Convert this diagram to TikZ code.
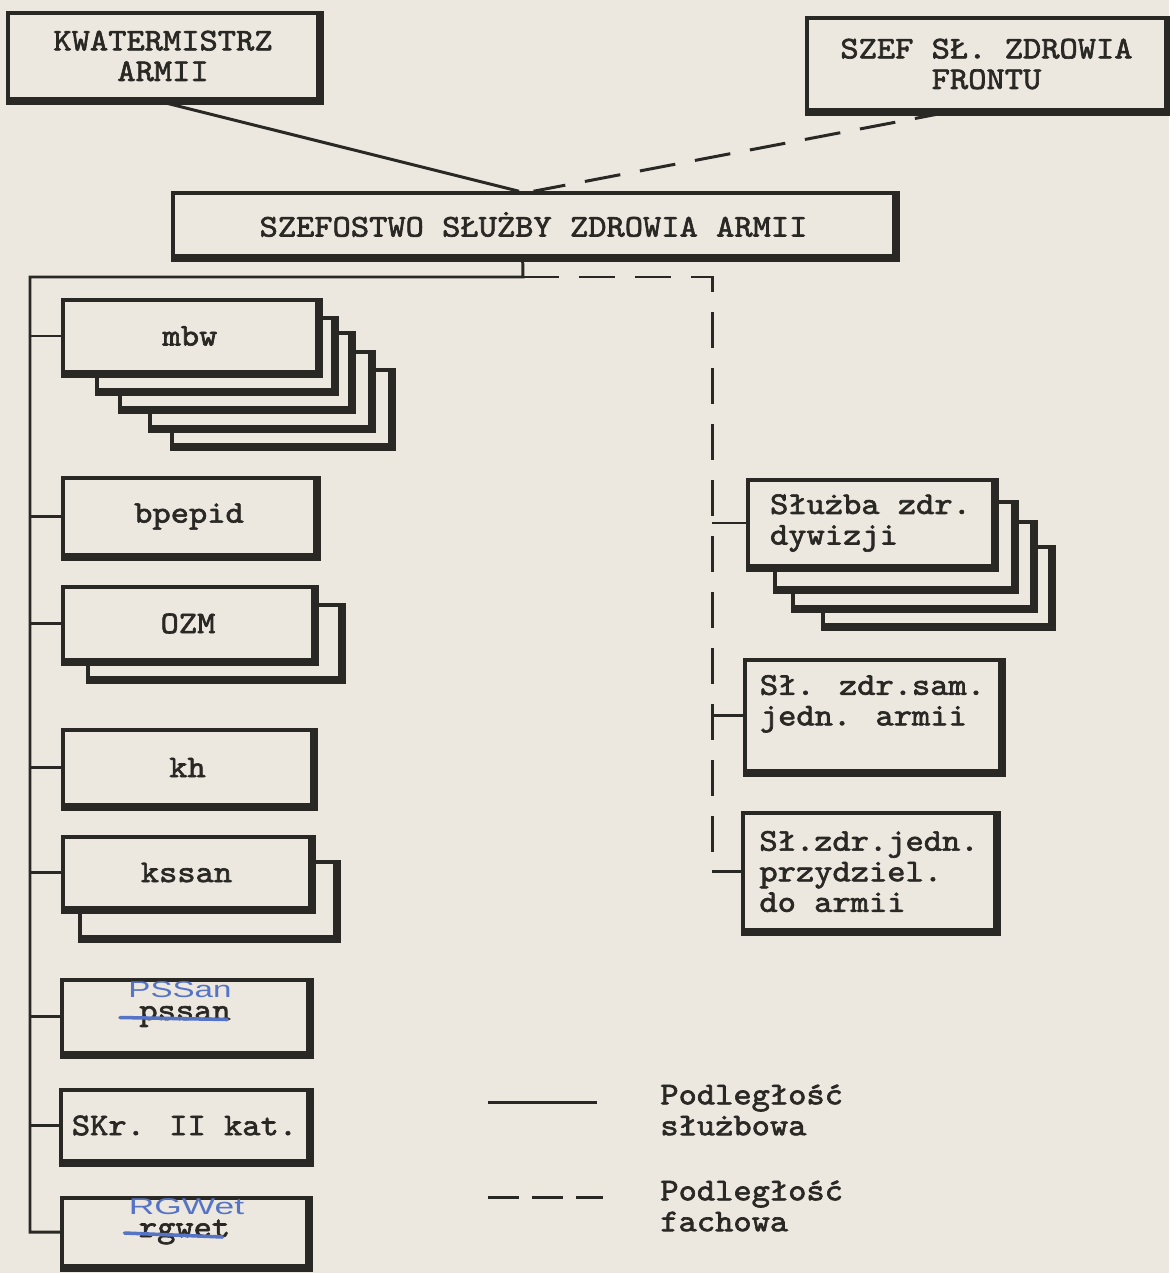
\documentclass[tikz,border=0pt]{standalone}
\usepackage{fontspec}
\usepackage{graphicx}
\newfontfamily\typew{lmmono10-regular.otf}[FakeStretch=1.1, FakeBold=2]
\newfontfamily\penfont{Liberation Sans}
\usetikzlibrary{fit, calc}
\definecolor{paper}{RGB}{236,232,223}
\definecolor{ink}{RGB}{42,40,37}
\definecolor{pen}{RGB}{86,116,198}
\tikzset{
  sheet/.style={
    rectangle, draw=ink, line width=2pt, fill=paper, inner sep=0pt,
    align=center, text=ink, font=\typew\fontsize{18}{17.4}\selectfont
  },
  heavy/.style={draw=ink, line width=4.5pt},
  sluzb/.style={draw=ink, line width=1.7pt},
  fach/.style={sluzb, dash pattern=on 0.72cm off 0.4cm},
  legend/.style={anchor=west, inner sep=0pt, align=left, text=ink, font=\typew\fontsize{18}{17.6}\selectfont},
  penmark/.style={inner sep=0pt, text=pen, font=\penfont\fontsize{13}{13}\selectfont},
  strike/.style={draw=pen, line width=2pt, line cap=round}
}

\begin{document}
\begin{tikzpicture}[x=0.02cm, y=-0.02cm]
    \fill[paper] (0,0) rectangle (1169,1273);
    \useasboundingbox (0,0) rectangle (1169,1273);

    % sheets lying under the front boxes
    \foreach \n/\xa/\ya/\xb/\yb in {mbwd/172/370/390/445, mbwc/150/352/370/427, mbwb/120/333/350/408, mbwa/97/318/333/390,
        ozmb/88/605/340/678, kssanb/80/862/335/937,
        dywd/823/547/1050/625, dywc/793/522/1032/607, dywb/775/502/1013/588} {
      \node[sheet, fit={(\xa,\ya) (\xb,\yb)}] (\n) {};
      \draw[heavy] (\n.north east) -- (\n.south east) -- (\n.south west);
    }

    \node[sheet, minimum width=6.2cm, minimum height=1.72cm] (kwat) at (163,56) {KWATERMISTRZ\\ARMII};
    \node[sheet, minimum width=7.18cm, minimum height=1.84cm] (szef) at (986.5,64) {SZEF SŁ. ZDROWIA\\FRONTU};
    \node[sheet, minimum width=14.42cm, minimum height=1.26cm] (szsz) at (533.5,224.5) {SZEFOSTWO SŁUŻBY ZDROWIA ARMII};

    \node[sheet, minimum width=5.08cm, minimum height=1.44cm] (mbw) at (190,336) {mbw};
    \node[sheet, minimum width=5.04cm, minimum height=1.54cm] (bpepid) at (189,516.5) {bpepid};
    \node[sheet, minimum width=5cm, minimum height=1.46cm] (ozm) at (188,623.5) {OZM};
    \node[sheet, minimum width=4.98cm, minimum height=1.5cm] (kh) at (187.5,767.5) {kh};
    \node[sheet, minimum width=4.94cm, minimum height=1.42cm] (kssan) at (186.5,872.5) {kssan};
    \node[sheet, minimum width=4.92cm, minimum height=1.46cm] (pssan) at (185,1016.5) {pssan};
    \node[sheet, minimum width=4.94cm, minimum height=1.42cm] (skr) at (184.5,1125.5) {SKr. II kat.};
    \node[sheet, minimum width=4.9cm, minimum height=1.36cm] (rgwet) at (184.5,1232) {rgwet};

    \node[sheet, minimum width=4.9cm, minimum height=1.72cm, align=left] (dyw) at (870.5,523) {Służba zdr.\\dywizji};
    \node[sheet, minimum width=5.1cm, minimum height=2.22cm, align=left] (samj) at (872.5,715.5) {Sł. zdr.sam.\\jedn. armii\\\mbox{}};
    \node[sheet, minimum width=5.04cm, minimum height=2.34cm, align=left] (przy) at (869,871.5) {Sł.zdr.jedn.\\przydziel.\\do armii};

    \foreach \n in {kwat,szef,szsz,mbw,bpepid,ozm,kh,kssan,pssan,skr,rgwet,dyw,samj,przy}
      \draw[heavy] (\n.north east) -- (\n.south east) -- (\n.south west);

    % links to the top
    \draw[sluzb] ($(kwat.south west)!0.48!(kwat.south east)$) -- ($(szsz.north west)!0.48!(szsz.north east)$);
    \draw[fach] ($(szef.south west)!0.4!(szef.south east)$) -- ($(szsz.north west)!0.5!(szsz.north east)$);

    % trunk of the service lines
    \coordinate (szszb) at ($(szsz.south west)!0.485!(szsz.south east)$);
    \coordinate (hub) at (523,277);
    \coordinate (trunk) at (30,277);
    \coordinate (dtop) at (712,277);
    \draw[sluzb] (szszb) -- (hub) -- (trunk) -- (trunk |- rgwet.west) -- (rgwet.west);
    \foreach \b in {mbw,bpepid,ozm,kh,kssan,pssan,skr}
      \draw[sluzb] (\b.west -| trunk) -- (\b.west);

    \draw[fach] (hub) -- (dtop) -- (dtop |- przy.west) -- (przy.west);
    \foreach \b in {dyw,samj}
      \draw[sluzb] (\b.west -| dtop) -- (\b.west);

    % pen corrections
    \draw[strike] ($(pssan.center)+(-65,1)$) -- ($(pssan.center)+(42,3)$);
    \node[penmark] (pssanfix) at ($(pssan.center)+(-5,-27)$) {\scalebox{1.45}[1]{PSSan}};
    \draw[strike] ($(rgwet.center)+(-60,1)$) -- ($(rgwet.center)+(38,5)$);
    \node[penmark] (rgwetfix) at ($(rgwet.center)+(2,-25)$) {\scalebox{1.55}[1]{RGWet}};

    % legend
    \coordinate (solA) at (488,1102);
    \coordinate (solB) at (597,1102);
    \coordinate (fachA) at (488,1197);
    \coordinate (fachB) at (603,1197);
    \draw[sluzb] (solA) -- (solB);
    \draw[sluzb, dash pattern=on 0.62cm off 0.26cm] (fachA) -- (fachB);
    \node[legend] (sluzbtxt) at (660,1110) {Podległość\\służbowa};
    \node[legend] (fachtxt) at (660,1206) {Podległość\\fachowa};
\end{tikzpicture}
\end{document}
